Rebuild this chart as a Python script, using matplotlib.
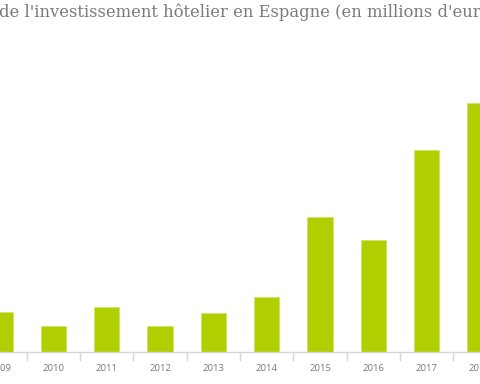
import matplotlib
matplotlib.use("Agg")
import matplotlib.pyplot as plt
import numpy as np

# Hotel investment in Spain, millions of euros
years = ['2009', '2010', '2011', '2012', '2013', '2014', '2015', '2016', '2017', '2018']
values = [780, 510, 880, 510, 760, 1070, 2630, 2180, 3940, 4850]

title = "de l'investissement hôtelier en Espagne (en millions d'euros)"

fig = plt.figure(figsize=(4.8, 3.84), dpi=100)
ax = fig.add_axes([0, 0, 1, 1])

x = np.arange(len(years))
ax.bar(x, values, width=0.48, color='#b1cf00', edgecolor='#cfe36a', linewidth=0.6, zorder=2)

# axis placement so the chart is cropped like the reference
ax.set_xlim(0.11, 8.95)
ax.set_ylim(-624, 6864)

for s in ['top', 'right', 'left']:
    ax.spines[s].set_visible(False)
ax.spines['bottom'].set_position(('data', 0))
ax.spines['bottom'].set_color('#d6d6d6')
ax.spines['bottom'].set_linewidth(1.0)
ax.set_yticks([])

ax.set_xticks(x)
ax.set_xticklabels(years, fontsize=6.8, color='#7a7a7a', family='Open Sans')
ax.set_xticks(x[:-1] + 0.5, minor=True)
ax.tick_params(axis='x', which='major', length=0, pad=8.5)
ax.tick_params(axis='x', which='minor', length=6.5, width=1.0, color='#d6d6d6', direction='out')

fig.text(-0.002, 0.955, title, fontsize=11.8, color='#7a7a7a', family='DejaVu Serif',
         ha='left', va='baseline')

fig.savefig('out.png', dpi=100)
